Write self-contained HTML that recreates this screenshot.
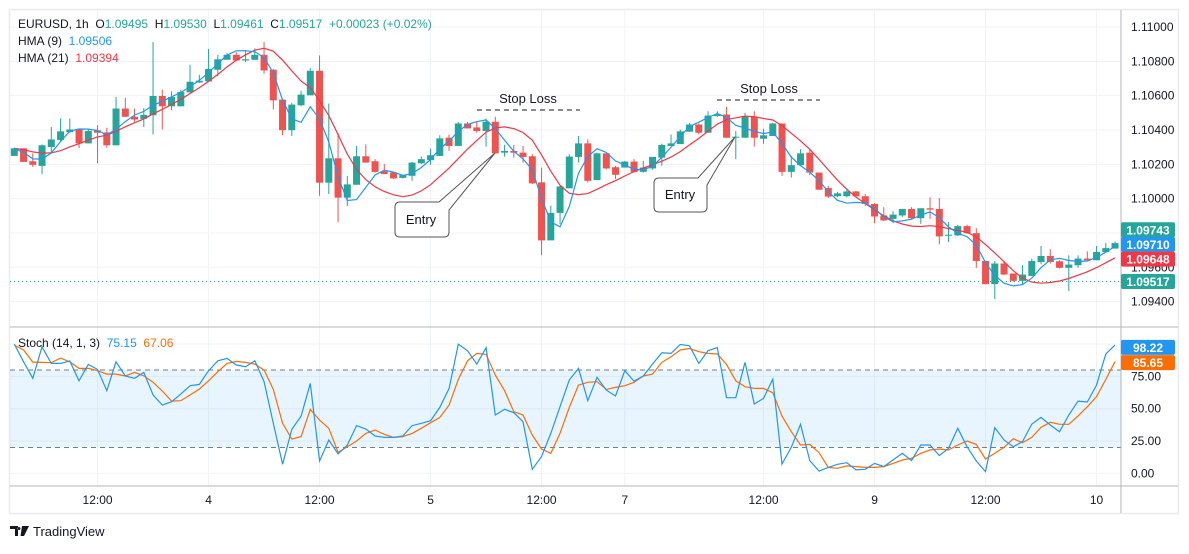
<!DOCTYPE html>
<html><head><meta charset="utf-8">
<style>
html,body{margin:0;padding:0;background:#fff;}
body{width:1189px;height:549px;overflow:hidden;font-family:"Liberation Sans",Arial,sans-serif;}
svg text{font-family:"Liberation Sans",Arial,sans-serif;}
</style></head>
<body>
<svg id="chart" width="1189" height="549" xmlns="http://www.w3.org/2000/svg">
  <rect x="9.5" y="9.5" width="1169" height="504" fill="#fff" stroke="#e8eaee" stroke-width="1.5"/>
  <g id="grid"></g>
  <rect id="stochBand" fill="#2196f3" fill-opacity="0.1"/>
  <g id="candles"></g>
  <g id="lines"></g>
  <g id="axes"></g>
  <g id="legend">
    <text x="18" y="28" font-size="12" fill="#131722">EURUSD, 1h&#160;&#160;O<tspan fill="#26a69a">1.09495</tspan>&#160;&#160;H<tspan fill="#26a69a">1.09530</tspan>&#160;&#160;L<tspan fill="#26a69a">1.09461</tspan>&#160;&#160;C<tspan fill="#26a69a">1.09517</tspan>&#160;&#160;<tspan fill="#26a69a">+0.00023 (+0.02%)</tspan></text>
    <text x="18" y="45" font-size="12" fill="#131722">HMA (9)&#160;&#160;<tspan fill="#2196f3">1.09506</tspan></text>
    <text x="18" y="62" font-size="12" fill="#131722">HMA (21)&#160;&#160;<tspan fill="#f23645">1.09394</tspan></text>
    <text x="18" y="347" font-size="12" fill="#131722">Stoch (14, 1, 3)&#160;&#160;<tspan fill="#2196f3">75.15</tspan>&#160;&#160;<tspan fill="#ff6d00">67.06</tspan></text>
  </g>
  <g id="annotations">
    <text x="528" y="103" font-size="13" text-anchor="middle" fill="#131722">Stop Loss</text>
    <line x1="477" y1="110" x2="580" y2="110" stroke="#131722" stroke-dasharray="5,4"/>
    <text x="769" y="93" font-size="13" text-anchor="middle" fill="#131722">Stop Loss</text>
    <line x1="717" y1="100" x2="820" y2="100" stroke="#131722" stroke-dasharray="5,4"/>
    <path d="M400 202 L439 202 L495 153 L449 210 L449 232 Q449 237 444 237 L400 237 Q395 237 395 232 L395 207 Q395 202 400 202 Z" fill="#fff" stroke="#555" stroke-width="1"/>
    <text x="421" y="224" font-size="13" text-anchor="middle" fill="#131722">Entry</text>
    <path d="M659 178 L698 178 L735 137 L707 185 L707 207 Q707 212 702 212 L659 212 Q654 212 654 207 L654 183 Q654 178 659 178 Z" fill="#fff" stroke="#555" stroke-width="1"/>
    <text x="680" y="199" font-size="13" text-anchor="middle" fill="#131722">Entry</text>
  </g>
  <g>
    <path d="M10 526 h8 v10 h-3 v-7 h-5 z M19 527 a1.5 1.5 0 1 0 0.01 0 z M22 526 h7 l-5 10 h-3.5 z" fill="#131722"/>
    <text x="33" y="536" font-size="13" fill="#131722">TradingView</text>
  </g>
</svg>
<script>
// ---- data ----
const opens  = [1.10249,1.10293,1.10218,1.10191,1.10301,1.10342,1.10388,1.10403,1.10322,1.10398,1.10386,1.10311,1.10525,1.10477,1.10465,1.10486,1.10598,1.10538,1.10538,1.10619,1.10677,1.10683,1.10751,1.10809,1.10838,1.10805,1.10809,1.10838,1.10751,1.10577,1.10399,1.10544,1.10602,1.10745,1.10093,1.10235,1.10006,1.10081,1.10247,1.10218,1.10160,1.10152,1.10121,1.10133,1.10206,1.10224,1.10249,1.10355,1.10307,1.10438,1.10415,1.10394,1.10448,1.10268,1.10278,1.10268,1.10247,1.10095,1.09757,1.09917,1.10060,1.10243,1.10322,1.10108,1.10264,1.10183,1.10181,1.10216,1.10156,1.10176,1.10239,1.10307,1.10318,1.10390,1.10432,1.10384,1.10481,1.10490,1.10355,1.10355,1.10477,1.10349,1.10365,1.10438,1.10156,1.10195,1.10268,1.10152,1.10062,1.10014,1.10014,1.10042,1.10014,1.09969,1.09902,1.09882,1.09902,1.09940,1.09886,1.09944,1.09940,1.09784,1.09786,1.09840,1.09799,1.09637,1.09502,1.09622,1.09564,1.09521,1.09550,1.09631,1.09666,1.09635,1.09597,1.09612,1.09651,1.09641,1.09689,1.09709];
const highs  = [1.10297,1.10293,1.10264,1.10316,1.10417,1.10467,1.10467,1.10403,1.10403,1.10428,1.10413,1.10592,1.10587,1.10525,1.10529,1.10913,1.10635,1.10625,1.10635,1.10780,1.10722,1.10872,1.10838,1.10847,1.10853,1.10866,1.10876,1.10913,1.10756,1.10577,1.10558,1.10629,1.10760,1.10834,1.10554,1.10384,1.10133,1.10307,1.10316,1.10230,1.10201,1.10152,1.10137,1.10214,1.10245,1.10291,1.10369,1.10374,1.10446,1.10448,1.10452,1.10467,1.10477,1.10313,1.10313,1.10307,1.10259,1.10181,1.09959,1.10075,1.10259,1.10365,1.10345,1.10268,1.10264,1.10191,1.10220,1.10230,1.10220,1.10243,1.10320,1.10374,1.10403,1.10442,1.10438,1.10509,1.10509,1.10535,1.10394,1.10500,1.10509,1.10407,1.10442,1.10438,1.10249,1.10288,1.10288,1.10152,1.10075,1.10040,1.10060,1.10046,1.10027,1.09975,1.09950,1.09927,1.09940,1.09950,1.09944,1.10008,1.10004,1.09863,1.09848,1.09848,1.09828,1.09637,1.09637,1.09637,1.09564,1.09612,1.09651,1.09724,1.09705,1.09641,1.09670,1.09670,1.09693,1.09724,1.09741,1.09751];
const lows   = [1.10249,1.10214,1.10185,1.10143,1.10262,1.10336,1.10384,1.10295,1.10322,1.10206,1.10297,1.10311,1.10477,1.10448,1.10417,1.10374,1.10403,1.10515,1.10538,1.10619,1.10673,1.10683,1.10712,1.10809,1.10805,1.10795,1.10809,1.10728,1.10519,1.10369,1.10365,1.10538,1.10602,1.10017,1.10027,1.09863,1.09956,1.10081,1.10210,1.10152,1.10143,1.10114,1.10118,1.10104,1.10201,1.10197,1.10249,1.10278,1.10307,1.10409,1.10384,1.10303,1.10264,1.10245,1.10239,1.10210,1.10085,1.09670,1.09757,1.09853,1.10060,1.10210,1.10095,1.10108,1.10172,1.10114,1.10181,1.10152,1.10152,1.10168,1.10191,1.10307,1.10318,1.10390,1.10374,1.10384,1.10477,1.10355,1.10230,1.10355,1.10303,1.10320,1.10365,1.10133,1.10123,1.10191,1.10137,1.10052,1.10004,1.10008,1.10008,1.10014,1.09956,1.09857,1.09869,1.09857,1.09892,1.09882,1.09853,1.09882,1.09734,1.09747,1.09782,1.09795,1.09597,1.09502,1.09415,1.09554,1.09516,1.09496,1.09550,1.09618,1.09622,1.09593,1.09462,1.09597,1.09641,1.09641,1.09689,1.09709];
const closes = [1.10293,1.10214,1.10197,1.10311,1.10345,1.10392,1.10403,1.10322,1.10394,1.10384,1.10311,1.10525,1.10477,1.10461,1.10488,1.10598,1.10538,1.10592,1.10621,1.10681,1.10687,1.10756,1.10812,1.10838,1.10805,1.10812,1.10838,1.10747,1.10573,1.10399,1.10548,1.10606,1.10745,1.10093,1.10235,1.10006,1.10083,1.10247,1.10210,1.10156,1.10143,1.10118,1.10137,1.10210,1.10230,1.10253,1.10351,1.10307,1.10438,1.10409,1.10394,1.10448,1.10264,1.10278,1.10268,1.10243,1.10089,1.09757,1.09917,1.10071,1.10245,1.10322,1.10104,1.10264,1.10176,1.10139,1.10216,1.10156,1.10181,1.10243,1.10313,1.10322,1.10392,1.10432,1.10384,1.10484,1.10490,1.10355,1.10361,1.10477,1.10355,1.10369,1.10438,1.10156,1.10195,1.10264,1.10152,1.10052,1.10012,1.10031,1.10042,1.10014,1.09969,1.09896,1.09873,1.09907,1.09940,1.09886,1.09944,1.09936,1.09780,1.09790,1.09840,1.09799,1.09637,1.09502,1.09622,1.09558,1.09521,1.09558,1.09637,1.09666,1.09631,1.09597,1.09616,1.09651,1.09641,1.09689,1.09712,1.09741];
const stochK = [100,86.3,73.5,97.9,85.1,85.1,86.9,71.6,84.3,80.4,63.9,86.3,75.3,73.5,78.1,60.6,52.8,55.4,61.3,67.8,68.8,79.4,87.1,88.9,83.8,82.5,87.1,70.9,38.7,7.0,34.0,44.3,69.6,9.5,25.8,14.9,21.9,36.9,34.3,28.9,27.8,27.8,28.9,36.9,38.7,40.7,51.0,65.7,100,94.8,84.5,97.2,45.1,49.5,46.9,39.9,3.1,12.9,30.9,51.5,72.2,81.2,56.2,74.2,64.4,59.8,79.4,71.4,75.3,84.5,93.3,92.8,99.7,98.7,85.1,94.8,97.4,58.5,58.5,85.8,53.6,58.0,72.9,7.2,20.1,37.9,9.8,1.8,4.6,7.0,8.2,2.6,3.1,7.7,5.2,10.3,15.5,9.8,21.9,21.9,13.7,19.3,34.8,20.6,9.5,1.3,35.3,25.8,20.6,24.5,38.1,43.3,37.4,32.2,45.1,55.9,55.2,68.3,92.3,99.2];
const stochD = [99.2,95.4,86.1,85.8,85.6,89.2,86.3,81.2,81.2,79.4,76.8,76.8,75.3,78.1,75.5,70.4,63.7,55.9,56.2,60.6,65.2,71.6,78.6,85.1,86.6,85.8,84.5,79.9,64.9,38.7,26.5,28.4,49.5,41.2,34.8,16.2,20.6,25.0,30.9,33.5,30.2,27.8,28.4,30.9,34.8,39.2,43.3,52.8,72.7,87.1,92.8,92.0,76.0,63.9,47.7,45.1,29.6,18.8,15.5,30.9,51.0,68.3,70.4,70.9,64.9,66.5,67.8,70.4,75.3,76.8,85.8,90.2,95.4,96.6,94.1,92.8,92.3,84.3,71.6,67.0,65.7,65.7,62.4,44.3,32.2,21.9,22.4,16.0,4.6,3.9,5.7,5.2,4.6,4.6,5.2,7.7,10.3,11.6,15.5,18.0,18.8,18.0,21.9,25.0,22.4,11.1,15.5,20.1,26.8,23.7,27.8,35.6,39.5,37.9,37.9,44.3,51.5,59.3,72.7,86.4];
const priceTicks = [1.110,1.108,1.106,1.104,1.102,1.100,1.098,1.096,1.094];
const stochTicks = [100,75,50,25,0];
const timeLabels = ["12:00","4","12:00","5","12:00","7","12:00","9","12:00","10"];
const timeLabelBars = [9,21,33,45,57,66,81,93,105,117];
const lastLabels = [{v:1.09743,c:"#26a69a",t:"1.09743",dy:-13},{v:1.09710,c:"#2196f3",t:"1.09710",dy:-4},{v:1.09648,c:"#f23645",t:"1.09648",dy:0},{v:1.09517,c:"#26a69a",t:"1.09517",dy:0}];

// ---- scales ----
const NS="http://www.w3.org/2000/svg";
const PL=10, PR=1121, MT=10, MB=327, ST=328, SB=486;
const xOf = i => 14.3 + i*9.25;
const yP = p => 27 + (1.110 - p)/0.002*34.33;
const yS = v => 473.3 - v*1.292;
function mk(tag, attrs, parent){const e=document.createElementNS(NS,tag);for(const k in attrs)e.setAttribute(k,attrs[k]);parent.appendChild(e);return e;}

const grid=document.getElementById('grid'), cg=document.getElementById('candles'), lg=document.getElementById('lines'), ax=document.getElementById('axes');

priceTicks.forEach(p=>{const l=mk('line',{x1:PL,x2:PR,y1:yP(p),y2:yP(p),stroke:'#f0f3fa'},grid);

});
stochTicks.forEach(v=>{const l=mk('line',{x1:PL,x2:PR,y1:yS(v),y2:yS(v),stroke:'#f0f3fa'},grid);

});
timeLabelBars.forEach(b=>{const l=mk('line',{x1:xOf(b),x2:xOf(b),y1:MT,y2:SB,stroke:'#f0f3fa'},grid);

});

const band=document.getElementById('stochBand');
band.setAttribute('x',PL);band.setAttribute('width',PR-PL);band.setAttribute('y',yS(80));band.setAttribute('height',yS(20)-yS(80));
[80,20].forEach(v=>{const l=mk('line',{x1:PL,x2:PR,y1:yS(v),y2:yS(v),stroke:'#787b86','stroke-dasharray':'5,4'},grid);

});

{const l=mk('line',{x1:PL,x2:PR,y1:yP(1.09517),y2:yP(1.09517),stroke:'#26a69a','stroke-dasharray':'1,3'},grid);

}

for(let i=0;i<opens.length;i++){
  const up=closes[i]>=opens[i], col=up?'#26a69a':'#ef5350', x=xOf(i);
  const g=mk('g',{},cg);
  
  
  mk('line',{x1:x,x2:x,y1:yP(highs[i]),y2:yP(lows[i]),stroke:col,'stroke-width':1},g);
  const top=yP(Math.max(opens[i],closes[i])), bot=yP(Math.min(opens[i],closes[i]));
  mk('rect',{x:x-3.5,y:top,width:7,height:Math.max(1,bot-top),fill:col},g);
}

function wma(arr,n){return arr.map((_,i)=>{let s=0,w=0;for(let k=0;k<n;k++){const v=arr[Math.max(0,i-k)];s+=v*(n-k);w+=n-k;}return s/w;});}
function hma(arr,n){const a=wma(arr,Math.floor(n/2)),b=wma(arr,n);const d=a.map((v,i)=>2*v-b[i]);return wma(d,Math.round(Math.sqrt(n)));}
function path(vals,yf){return vals.map((v,i)=>(i?'L':'M')+xOf(i).toFixed(1)+' '+yf(v).toFixed(1)).join(' ');}
const h21=hma(closes,21), h9=hma(closes,9);
{const p=mk('path',{d:path(h21,yP),fill:'none',stroke:'#f23645','stroke-width':1.2},lg);

}
{const p=mk('path',{d:path(h9,yP),fill:'none',stroke:'#2196f3','stroke-width':1.2},lg);

}
{const p=mk('path',{d:path(stochD,yS),fill:'none',stroke:'#ff6d00','stroke-width':1.2},lg);

}
{const p=mk('path',{d:path(stochK,yS),fill:'none',stroke:'#2196f3','stroke-width':1.2},lg);

}

[[PR,MT,PR,513],[PL,MB,1178,MB],[PL,SB,1178,SB]].forEach(a=>{const l=mk('line',{x1:a[0],y1:a[1],x2:a[2],y2:a[3],stroke:'#b2b5be'},ax);

});

priceTicks.forEach(p=>{const t=mk('text',{x:1131,y:yP(p)+4,'font-size':12,fill:'#131722'},ax);t.textContent=p.toFixed(5);

});
stochTicks.slice(1).forEach(v=>{const t=mk('text',{x:1131,y:yS(v)+4,'font-size':12,fill:'#131722'},ax);t.textContent=v.toFixed(2);

});
timeLabels.forEach((s,i)=>{const t=mk('text',{x:xOf(timeLabelBars[i]),y:504,'font-size':12,fill:'#131722','text-anchor':'middle'},ax);t.textContent=s;

});

function tag(y,c,txt,name){
  const r=mk('rect',{x:PR,y:y-7.5,width:54,height:15,rx:2,fill:c},ax);
  
  
  const t=mk('text',{x:PR+27,y:y+4.5,'font-size':12,'font-weight':'bold',fill:'#fff','text-anchor':'middle'},ax);t.textContent=txt;
  
  }
lastLabels.forEach(l=>tag(yP(l.v)+l.dy,l.c,l.t,'price-tag'));
tag(yS(98.22)+1,'#2196f3','98.22','stoch-k-tag');
tag(yS(85.65),'#ff6d00','85.65','stoch-d-tag');
</script>
</body></html>
